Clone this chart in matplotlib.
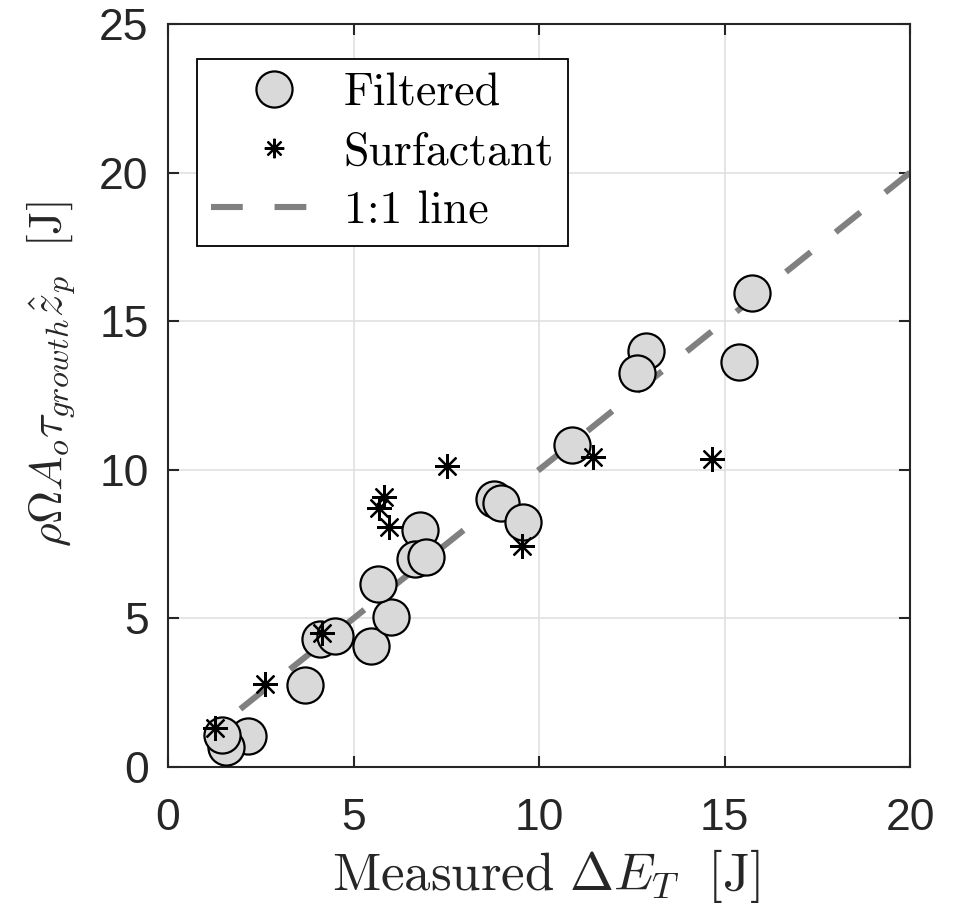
import numpy as np
import matplotlib
matplotlib.use('Agg')
import matplotlib.pyplot as plt

plt.rcParams['mathtext.fontset'] = 'cm'
plt.rcParams['font.family'] = ['Liberation Sans', 'DejaVu Sans']

# Filtered (circles)
filt_x = [2.16, 1.55, 1.45, 3.70, 4.11, 4.51, 5.46, 6.02, 5.66, 6.78, 6.65, 6.96,
          8.79, 8.98, 9.57, 10.89, 15.73, 12.88, 12.65, 15.40]
filt_y = [1.04, 0.68, 1.08, 2.76, 4.30, 4.41, 4.08, 5.04, 6.16, 7.97, 6.99, 7.06,
          9.01, 8.89, 8.25, 10.83, 15.94, 14.01, 13.27, 13.64]
# Surfactant (asterisks)
surf_x = [1.26, 2.61, 4.15, 5.82, 5.68, 5.97, 7.53, 9.54, 11.46, 14.66]
surf_y = [1.30, 2.78, 4.50, 9.07, 8.70, 8.07, 10.14, 7.44, 10.44, 10.36]
# 1:1 line (drawn from the top end so the dash phase matches)
line_x = [20, 1.2]

dark = (0.15, 0.15, 0.15)

fig = plt.figure(figsize=(9.61, 9.05), dpi=100)
ax = fig.add_axes([168/961, 1-767/905, 742/961, 743/905])

ax.plot(filt_x, filt_y, 'o', ms=26, mfc=(0.85, 0.85, 0.85), mec='k', mew=1.6,
        label='Filtered', zorder=3)
ax.plot(surf_x, surf_y, ls='none', marker=(8, 2, 0), ms=18, mec='k', mew=1.6,
        label='Surfactant', zorder=4)
ax.plot(line_x, line_x, color=(0.5, 0.5, 0.5), lw=4.4, dashes=(5.2, 5.2),
        label='1:1 line', zorder=2)

ax.set_xlim(0, 20)
ax.set_ylim(0, 25)
ax.set_xticks([0, 5, 10, 15, 20])
ax.set_yticks([0, 5, 10, 15, 20, 25])
ax.grid(True, color=(0.88, 0.88, 0.88), lw=1.2)
ax.set_axisbelow(True)
for s in ax.spines.values():
    s.set_color(dark)
    s.set_linewidth(1.5)
ax.tick_params(direction='in', length=8, width=1.5, color=dark,
               labelsize=32, labelcolor=dark, top=True, right=True)
ax.tick_params(axis='x', pad=22)
ax.tick_params(axis='y', pad=14)

ax.set_xlabel(r'$\mathrm{Measured}\ \Delta E_T\ \ [\mathrm{J}]$', fontsize=38, color=dark)
ax.xaxis.set_label_coords(0.509, -0.107)
ax.set_ylabel(r'$\rho\Omega A_o\tau_{growth}\hat{z}_p\ \ [\mathrm{J}]$', fontsize=33, color=dark)
ax.yaxis.set_label_coords(-0.122, 0.529)

leg = ax.legend(loc='upper left', bbox_to_anchor=(0.039, 0.953), borderaxespad=0,
                fancybox=False, framealpha=1, edgecolor='k',
                prop={'family': 'cmr10', 'size': 33}, handlelength=2.75,
                handletextpad=0.15, labelspacing=0.38, borderpad=0.3)
leg.get_frame().set_linewidth(1.3)
leg.legend_handles[1].set_markersize(14)

fig.savefig('out.png', dpi=100)
